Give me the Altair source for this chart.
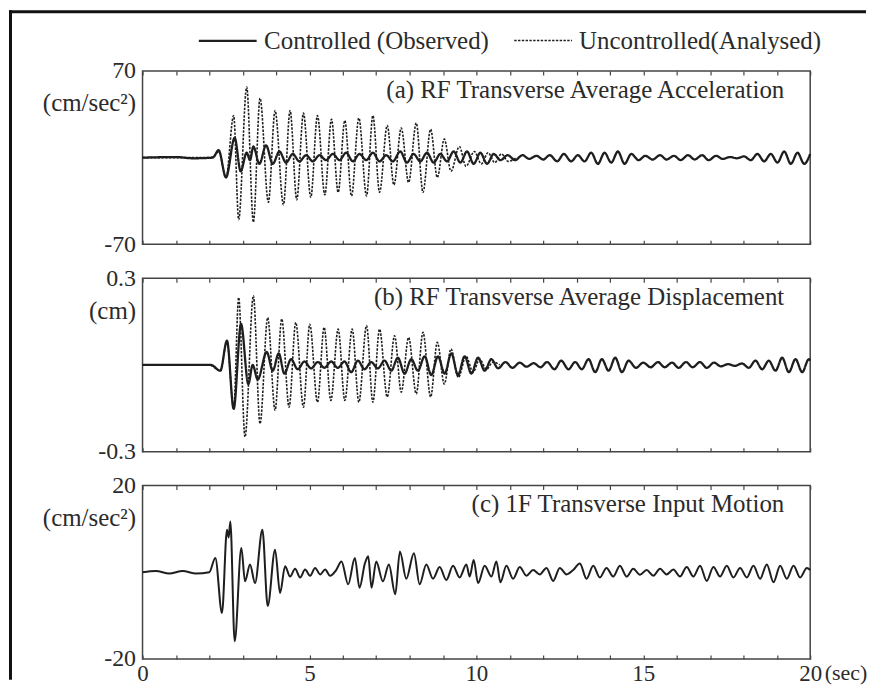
import altair as alt
import pandas as pd

# ---------------- data ----------------
SER_CTL = "Controlled (Observed)"
SER_UNC = "Uncontrolled(Analysed)"

# (a) RF transverse average acceleration (cm/sec^2)
t_a_unc = [0, 2.0, 2.15, 2.28, 2.50, 2.73, 2.88, 3.12, 3.32, 3.52, 3.77, 3.97, 4.22, 4.42, 4.62,
           4.82, 5.04, 5.24, 5.46, 5.66, 5.86, 6.06, 6.26, 6.48, 6.71, 6.90, 7.10, 7.33, 7.53,
           7.75, 7.97, 8.20, 8.40, 8.63, 8.83, 9.04, 9.24, 9.49, 9.69, 9.94, 10.15, 10.35,
           10.55, 10.75, 10.95, 11.2]
v_a_unc = [0, 0, 1, 5, -16, 34, -50, 57, -52, 48, -36, 38, -38, 38, -34,
           36, -32, 34, -30, 31, -28, 30, -31, 32, -31, 34, -28, 26, -22,
           24, -20, 28, -28, 23, -16, 15, -11, 9, -7, 5, -5, 4,
           -4, 3, -3, 0]

t_a_ctl = [0, 1.0, 1.5, 2.1, 2.28, 2.50, 2.76, 2.94, 3.12, 3.22, 3.32, 3.50, 3.70, 3.90, 4.10,
           4.30, 4.50, 4.70, 4.90, 5.10, 5.30, 5.50, 5.70, 5.90, 6.10, 6.30, 6.50, 6.70, 6.90,
           7.10, 7.30, 7.50, 7.72, 7.92, 8.12, 8.32, 8.52, 8.72, 8.92, 9.12, 9.32, 9.52, 9.72,
           9.92, 10.12, 10.32, 10.52, 10.72, 10.94, 11.16, 11.38, 11.58, 11.80, 12.00, 12.20,
           12.42, 12.62, 12.84, 13.04, 13.24, 13.44, 13.64, 13.84, 14.04, 14.24, 14.44, 14.64,
           14.86, 15.06, 15.28, 15.50, 15.70, 15.92, 16.12, 16.34, 16.54, 16.76, 16.96, 17.18,
           17.38, 17.60, 17.80, 18.02, 18.22, 18.42, 18.62, 18.82, 19.02, 19.22, 19.42, 19.62,
           19.82, 20.0]
v_a_ctl = [0, 0.5, -0.5, 0, 6, -16, 16, -11, 4, -2, 9, -5, 10, -5, 5,
           -4, 3, -3, 2, -3, 2, -2, 3, -2, 4, -3, 3, -2, 4,
           -3, 2, -3, 5, -4, 3, -3, 4, -4, 3, -3, 5, -4, 5,
           -5, 4, -5, 3, -2, 2, -2, 2, -1, 1.5, -1.5, 2,
           -3, 3, -3, 2, -3, 4, -5, 4, -4, 5, -5, 3,
           -2, 1.5, -1.5, 2, -1.5, 1.5, -2, 2, -1.5, 2, -2, 1.5,
           -1, 0.5, -0.5, 1, -2, 3, -3, 3, -4, 5, -5, 4,
           -5, 3]

# (b) RF transverse average displacement (cm)
t_b_unc = [0, 2.0, 2.33, 2.53, 2.73, 2.88, 3.07, 3.32, 3.52, 3.75, 3.97, 4.17, 4.39, 4.59, 4.82,
           5.01, 5.24, 5.44, 5.64, 5.86, 6.06, 6.28, 6.48, 6.71, 6.90, 7.10, 7.33, 7.55, 7.75,
           7.97, 8.20, 8.40, 8.63, 8.83, 9.04, 9.24, 9.46, 9.69, 9.90, 10.10, 10.30, 10.50, 10.70]
v_b_unc = [0, 0, -0.02, 0.08, -0.15, 0.233, -0.249, 0.239, -0.203, 0.164, -0.157, 0.159, -0.146,
           0.147, -0.146, 0.141, -0.129, 0.130, -0.123, 0.124, -0.123, 0.124, -0.129, 0.136,
           -0.129, 0.124, -0.111, 0.101, -0.094, 0.095, -0.100, 0.113, -0.111, 0.078, -0.066,
           0.055, -0.043, 0.030, -0.025, 0.020, -0.015, 0.010, 0]

t_b_ctl = [0, 2.05, 2.33, 2.53, 2.73, 2.95, 3.17, 3.30, 3.45, 3.72, 3.90, 4.08, 4.25, 4.45, 4.65,
           4.85, 5.05, 5.25, 5.45, 5.65, 5.85, 6.05, 6.25, 6.45, 6.65, 6.85, 7.05, 7.25, 7.45,
           7.65, 7.85, 8.05, 8.25, 8.45, 8.65, 8.85, 9.05, 9.25, 9.45, 9.65, 9.85, 10.05, 10.25,
           10.45, 10.65, 10.87, 11.08, 11.30, 11.50, 11.72, 11.92, 12.12, 12.34, 12.54, 12.76,
           12.96, 13.16, 13.36, 13.56, 13.76, 13.96, 14.16, 14.36, 14.56, 14.78, 15.00, 15.22,
           15.44, 15.64, 15.86, 16.06, 16.28, 16.48, 16.70, 16.90, 17.12, 17.32, 17.54, 17.74,
           17.96, 18.16, 18.36, 18.56, 18.76, 18.96, 19.16, 19.36, 19.56, 19.76, 19.96, 20.0]
v_b_ctl = [0, 0, -0.02, 0.084, -0.152, 0.142, -0.066, 0.0, -0.05, 0.045, -0.02, 0.04, -0.03,
           0.02, -0.015, 0.012, -0.012, 0.01, -0.01, 0.012, -0.01, 0.012, -0.025, 0.015,
           -0.015, 0.01, -0.012, 0.015, -0.02, 0.025, -0.03, 0.02, -0.02, 0.03, -0.035, 0.03,
           -0.03, 0.04, -0.035, 0.03, -0.03, 0.025, -0.02, 0.02, -0.012, 0.01, -0.01, 0.008,
           -0.006, 0.006, -0.008, 0.01, -0.015, 0.015, -0.015, 0.01, -0.015, 0.02, -0.025,
           0.02, -0.02, 0.025, -0.025, 0.015, -0.01, 0.008, -0.008, 0.01, -0.008, 0.008,
           -0.01, 0.01, -0.008, 0.01, -0.01, 0.008, -0.005, 0.003, -0.003, 0.005, -0.01,
           0.015, -0.015, 0.015, -0.02, 0.025, -0.025, 0.02, -0.025, 0.02, 0.015]

# (c) 1F transverse input motion (cm/sec^2)
t_c_ctl = [0, 0.4, 0.8, 1.2, 1.6, 2.0, 2.18, 2.38, 2.53, 2.58, 2.63, 2.76, 2.96, 3.07, 3.22,
           3.37, 3.59, 3.75, 3.97, 4.12, 4.27, 4.42, 4.57, 4.72, 4.87, 5.02, 5.17, 5.32, 5.47,
           5.62, 5.80, 5.96, 6.16, 6.36, 6.50, 6.66, 6.76, 6.86, 7.00, 7.20, 7.38, 7.57, 7.71,
           7.90, 8.13, 8.30, 8.50, 8.70, 8.90, 9.10, 9.30, 9.50, 9.70, 9.80, 9.92, 10.05, 10.25,
           10.45, 10.60, 10.72, 10.90, 11.10, 11.30, 11.50, 11.70, 11.90, 12.10, 12.30, 12.50,
           12.70, 12.90, 13.10, 13.30, 13.50, 13.70, 13.90, 14.10, 14.30, 14.50, 14.70, 14.90,
           15.10, 15.30, 15.50, 15.70, 15.90, 16.10, 16.30, 16.50, 16.70, 16.90, 17.10, 17.30,
           17.50, 17.70, 17.90, 18.10, 18.30, 18.50, 18.70, 18.90, 19.10, 19.30, 19.50, 19.70,
           19.90, 20.0]
v_c_ctl = [0, 0.3, -0.3, 0.3, -0.3, 0, 3.3, -9.4, 9.8, 8.0, 11.7, -15.9, 5.6, -2.1, 1.8,
           -2.5, 9.8, -7.8, 5.2, -4.8, 1.4, -1.0, 0.8, -1.2, 0.6, -0.8, 1.0, -0.5, 0.6,
           -0.8, 0.5, 2.5, -2.8, 3.3, -3.6, 2.0, 3.7, -3.6, 2.5, -2.1, 1.8, -5.1, 4.8,
           -1.5, 4.4, -2.8, 1.8, -1.5, 1.2, -1.8, 1.5, -1.2, 1.8, -1.0, 2.8, -2.5, 1.5,
           -1.0, 2.5, -2.3, 1.5, -1.5, 1.2, -0.8, 0.5, -0.5, 1.0, -2.0, 1.0,
           -0.5, 0.5, 2.0, -1.5, 1.5, -1.2, 1.0, -1.0, 1.5, -1.0, 0.8, -0.6,
           0.5, -0.8, 0.8, -0.5, 0.6, -1.0, 1.2, -1.0, 1.5, -2.0, 1.2, -1.0,
           1.5, -1.2, 1.0, -1.2, 1.5, -1.5, 1.8, -2.3, 1.5, -1.5, 1.5, -1.2,
           1.0, 0.5]

x_tick_values = list(range(0, 21))
panel_titles = ["(a) RF Transverse Average Acceleration",
                "(b) RF Transverse Average Displacement",
                "(c) 1F Transverse Input Motion"]
units = ["(cm/sec\u00b2)", "(cm)", "(cm/sec\u00b2)"]
y_limits = [70, 0.3, 20]

# ---------------- styling ----------------
W, H = 670, 174
FONT = "Liberation Serif"
TXT = "#2b2b2b"
LINE = "#1e1e1e"
FRAME = "#111111"


def long_df(parts):
    rows = []
    for name, ts, vs in parts:
        rows += [{"series": name, "t": t, "v": v} for t, v in zip(ts, vs)]
    return pd.DataFrame(rows)


x_scale = alt.Scale(domain=[0, 20], nice=False, zero=False)
dash_scale = alt.Scale(domain=[SER_CTL, SER_UNC], range=[[1, 0], [2.4, 1.4]])
width_scale = alt.Scale(domain=[SER_CTL, SER_UNC], range=[2.3, 1.6])


def bottom_axis(with_labels):
    kw = dict(values=x_tick_values, orient="bottom", offset=-4, tickSize=4, tickWidth=1.2,
              tickColor="#444", domain=False, grid=False, labels=with_labels)
    if with_labels:
        kw.update(labelExpr="datum.value % 5 == 0 ? datum.label : ''", labelFlush=False,
                  labelOverlap=False, labelFont=FONT, labelFontSize=23, labelColor=TXT,
                  labelPadding=4, title="(sec)", titleFont=FONT, titleFontSize=22,
                  titleFontWeight="normal", titleColor=TXT, titleAngle=0, titleAlign="left",
                  titleBaseline="top", titleX=684, titleY=8)
    else:
        kw.update(title=None)
    return alt.Axis(**kw)


top_axis = alt.Axis(values=x_tick_values, orient="top", offset=-4, tickSize=4, tickWidth=1.2,
                    tickColor="#444", domain=False, grid=False, labels=False, title=None)


def y_axis(lim, unit, fmt):
    return alt.Axis(values=[-lim, lim], format=fmt, ticks=False, domain=False, grid=False,
                    labelFont=FONT, labelFontSize=24, labelColor=TXT, labelPadding=7,
                    labelFlush=False, labelExpr="replace(datum.label, '\u2212', '-')",
                    title=unit, titleAngle=0, titleAlign="right", titleBaseline="middle",
                    titleX=-7, titleY=32, titleFont=FONT, titleFontSize=25,
                    titleFontWeight="normal", titleColor=TXT)


def panel(idx, df, fmt, legend=False, x_labels=False, frame=False):
    lim = y_limits[idx]
    y_scale = alt.Scale(domain=[-lim, lim], nice=False, zero=False)
    yax = y_axis(lim, units[idx], fmt)
    base = alt.Chart(df)
    if legend:
        leg = alt.Legend(orient="none", legendX=55, legendY=-61, direction="horizontal",
                         title=None, symbolType="stroke", symbolSize=3364, padding=0,
                         symbolStrokeColor=LINE, labelFont=FONT, labelFontSize=25,
                         labelColor=TXT, labelOffset=6, columnPadding=21, labelLimit=400)
    else:
        leg = None
    enc = dict(
        x=alt.X("t:Q", scale=x_scale, axis=bottom_axis(x_labels)),
        y=alt.Y("v:Q", scale=y_scale, axis=yax),
    )
    if df["series"].nunique() > 1:
        enc["strokeDash"] = alt.StrokeDash("series:N", scale=dash_scale, legend=leg)
        enc["strokeWidth"] = alt.StrokeWidth("series:N", scale=width_scale, legend=leg)
        lines = base.mark_line(interpolate="monotone", color=LINE).encode(**enc)
    else:
        lines = base.mark_line(interpolate="monotone", color=LINE, strokeWidth=2.0).encode(**enc)
    top_ticks = base.mark_line(opacity=0, strokeWidth=0).encode(
        x=alt.X("t:Q", scale=x_scale, axis=top_axis),
        y=alt.Y("v:Q", scale=y_scale, axis=yax),
    )
    title = alt.Chart(pd.DataFrame({"label": [panel_titles[idx]]})).mark_text(
        align="right", baseline="middle", font=FONT, fontSize=25, color=TXT
    ).encode(x=alt.value(W - 26), y=alt.value(19), text="label:N")
    layers = [lines, top_ticks, title]
    if frame:
        one = pd.DataFrame({"k": [0]})
        layers.append(alt.Chart(one).mark_rect(color=FRAME).encode(
            x=alt.value(-134), x2=alt.value(-131), y=alt.value(-61), y2=alt.value(611)))
        layers.append(alt.Chart(one).mark_rect(color=FRAME).encode(
            x=alt.value(-134), x2=alt.value(726), y=alt.value(-61), y2=alt.value(-58)))
    return alt.layer(*layers).resolve_axis(x="independent").properties(width=W, height=H)


df_a = long_df([(SER_UNC, t_a_unc, v_a_unc), (SER_CTL, t_a_ctl, v_a_ctl)])
df_b = long_df([(SER_UNC, t_b_unc, v_b_unc), (SER_CTL, t_b_ctl, v_b_ctl)])
df_c = long_df([(SER_CTL, t_c_ctl, v_c_ctl)])

pa = panel(0, df_a, "d", legend=True, frame=True)
pb = panel(1, df_b, ".1f")
pc = panel(2, df_c, "d", x_labels=True)

chart = alt.vconcat(pa, pb, pc, spacing=34, bounds="flush").properties(
    padding=0
).configure(background="white").configure_view(stroke="#444", strokeWidth=1.5)

chart.save("out.html", embed_options={"renderer": "svg", "actions": False})
